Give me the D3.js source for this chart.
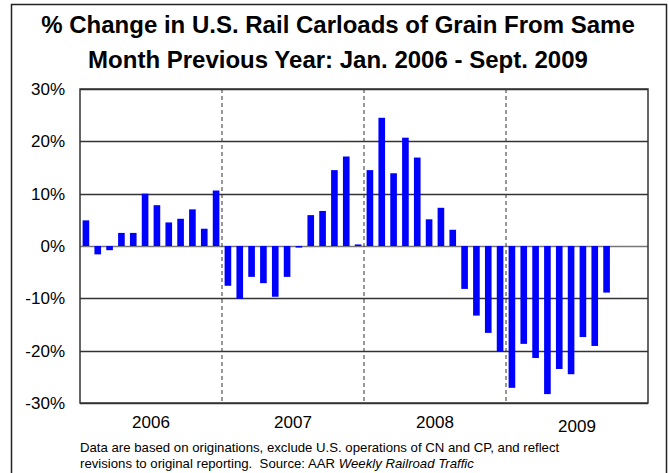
<!DOCTYPE html>
<html>
  <head>
    <script src="https://cdnjs.cloudflare.com/ajax/libs/d3/7.8.5/d3.min.js"></script>
    <style type="text/css">
      body {
        margin: 0;
        padding: 0;
        background: #fff;
      }
      svg text {
        font-family: Arial, "Liberation Sans", sans-serif;
        fill: #000;
      }
    </style>
  </head>
  <body>
    <div id="chart"></div>
    <script type="text/javascript">
    // % change, same month previous year, Jan 2006 .. Sept 2009
    const years = ['2006', '2007', '2008', '2009'];
    const monthNames = ['Jan', 'Feb', 'Mar', 'Apr', 'May', 'Jun', 'Jul', 'Aug', 'Sep', 'Oct', 'Nov', 'Dec'];
    const months = years.flatMap(y => monthNames.map(m => `${m} ${y}`));
    const changes = [
      4.9, -1.6, -0.8, 2.5, 2.5, 10.0, 7.8, 4.5, 5.2, 7.0, 3.3, 10.6,
      -7.6, -10.1, -5.9, -7.1, -9.7, -5.9, -0.3, 5.9, 6.7, 14.5, 17.1, 0.3,
      14.5, 24.5, 13.9, 20.7, 16.9, 5.1, 7.3, 3.1, -8.2, -13.3, -16.6, -20.2,
      -27.1, -18.7, -21.4, -28.3, -23.5, -24.5, -17.4, -19.1, -8.9
    ];
    const yTicks = [30, 20, 10, 0, -10, -20, -30];
    const titleLines = [
      '% Change in U.S. Rail Carloads of Grain From Same',
      'Month Previous Year: Jan. 2006 - Sept. 2009'
    ];

    const width = 669, height = 473;
    const plot = {left: 80, right: 648, top: 89, bottom: 403};

    const svg = d3.select('#chart')
      .append('svg')
      .attr('width', width)
      .attr('height', height);

    // outer frame (open at the bottom, like the original)
    svg.append('path')
      .attr('d', `M11.5,${height} V4.5 H666.5 V${height}`)
      .attr('fill', 'none')
      .attr('stroke', '#222')
      .attr('stroke-width', 1.5);

    const x = d3.scaleBand()
      .domain(months)
      .range([plot.left, plot.right])
      .paddingInner(0.44)
      .paddingOuter(0.22);
    const y = d3.scaleLinear().domain([-30, 30]).range([plot.bottom, plot.top]);

    // title
    svg.append('g')
      .selectAll('text')
      .data(titleLines)
      .enter()
      .append('text')
      .attr('x', 338)
      .attr('y', (d, i) => 33 + i * 35)
      .attr('text-anchor', 'middle')
      .attr('font-size', 24)
      .attr('font-weight', 'bold')
      .text(d => d);

    // gridlines
    svg.append('g')
      .selectAll('line')
      .data(yTicks)
      .enter()
      .append('line')
      .attr('x1', plot.left)
      .attr('x2', plot.right)
      .attr('y1', d => Math.round(y(d)) + 0.5)
      .attr('y2', d => Math.round(y(d)) + 0.5)
      .attr('stroke', d => d === 0 ? '#777' : '#333')
      .attr('stroke-width', 1.3);

    // y labels
    svg.append('g')
      .selectAll('text')
      .data(yTicks)
      .enter()
      .append('text')
      .attr('x', 65)
      .attr('y', d => y(d))
      .attr('dy', '0.36em')
      .attr('text-anchor', 'end')
      .attr('font-size', 17)
      .text(d => `${d}%`);

    // bars
    svg.append('g')
      .selectAll('rect')
      .data(changes)
      .enter()
      .append('rect')
      .attr('x', (d, i) => x(months[i]))
      .attr('y', d => y(Math.max(0, d)))
      .attr('width', x.bandwidth())
      .attr('height', d => Math.abs(y(d) - y(0)))
      .attr('fill', '#0000ff');

    // year dividers
    const step = x.step();
    svg.append('g')
      .selectAll('line')
      .data(years.slice(1))
      .enter()
      .append('line')
      .attr('x1', d => x(`Jan ${d}`) - (step - x.bandwidth()) / 2)
      .attr('x2', d => x(`Jan ${d}`) - (step - x.bandwidth()) / 2)
      .attr('y1', plot.top)
      .attr('y2', plot.bottom)
      .attr('stroke', '#333')
      .attr('stroke-width', 1)
      .attr('stroke-dasharray', '4,3');

    // plot frame
    svg.append('rect')
      .attr('x', plot.left)
      .attr('y', plot.top)
      .attr('width', plot.right - plot.left)
      .attr('height', plot.bottom - plot.top)
      .attr('fill', 'none')
      .attr('stroke', '#333')
      .attr('stroke-width', 1.5);

    // year labels
    svg.append('g')
      .selectAll('text')
      .data(years)
      .enter()
      .append('text')
      .attr('x', d => {
        const a = x(`Jan ${d}`), b = x(`Dec ${d}`) + x.bandwidth();
        return (a + b) / 2;
      })
      .attr('y', (d, i) => i === 3 ? 432 : 428)
      .attr('text-anchor', 'middle')
      .attr('font-size', 17)
      .text(d => d);

    // footnote
    const note = svg.append('text')
      .attr('x', 80)
      .attr('y', 452)
      .attr('font-size', 13.2);
    note.append('tspan')
      .text('Data are based on originations, exclude U.S. operations of CN and CP, and reflect');
    const line2 = note.append('tspan')
      .attr('x', 80)
      .attr('dy', 16)
      .text('revisions to original reporting.  Source: AAR ');
    line2.attr('xml:space', 'preserve');
    note.append('tspan')
      .attr('font-style', 'italic')
      .text('Weekly Railroad Traffic');
    </script>
  </body>
</html>
